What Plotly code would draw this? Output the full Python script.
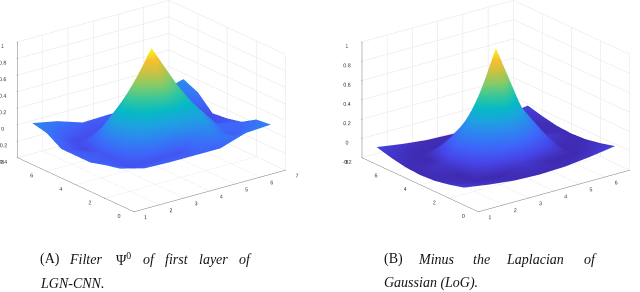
import plotly.graph_objects as go

x_vals = [1, 2, 3, 4, 5, 6, 7]
y_vals = [1, 2, 3, 4, 5, 6, 7]
z_filter = [
    [0.04, -0.04, -0.05, -0.05, -0.05, 0.05, 0.07],
    [0.00, -0.12, -0.10, -0.09, 0.17, -0.08, 0.05],
    [-0.05, -0.10, 0.26, 0.48, 0.35, 0.00, -0.06],
    [-0.05, -0.09, 0.48, 1.00, 0.48, -0.15, -0.10],
    [-0.05, -0.15, 0.20, 0.48, 0.24, -0.20, -0.12],
    [0.06, -0.13, -0.15, -0.15, -0.18, -0.12, 0.05],
    [0.10, 0.04, -0.06, -0.05, -0.05, 0.05, 0.13],
]
z_log = [
    [-0.02, -0.06, -0.09, -0.10, -0.09, -0.06, -0.02],
    [-0.06, -0.10, -0.10, -0.05, -0.10, -0.10, -0.06],
    [-0.09, -0.10, 0.14, 0.32, 0.14, -0.10, -0.09],
    [-0.10, -0.05, 0.32, 1.00, 0.32, -0.05, -0.10],
    [-0.09, -0.10, 0.14, 0.32, 0.14, -0.10, -0.09],
    [-0.06, -0.10, -0.10, -0.05, -0.10, -0.10, -0.06],
    [-0.02, -0.06, -0.09, -0.10, -0.09, -0.06, -0.02],
]
x_ticks = [1, 2, 3, 4, 5, 6, 7]
y_ticks = [0, 2, 4, 6, 8]
z_ticks_a = [-0.4, -0.2, 0, 0.2, 0.4, 0.6, 0.8, 1]
z_ticks_b = [-0.2, 0, 0.2, 0.4, 0.6, 0.8, 1]
caption_a = [("(A)", 38, 259, False), ("Filter", 67, 259, True), ("Ψ<sup>0</sup>", 114, 259, False),
             ("of", 141, 259, True), ("first", 163, 259, True), ("layer", 197, 259, True),
             ("of", 237, 259, True), ("LGN-CNN.", 38, 283, True)]
caption_b = [("(B)", 382, 259, False), ("Minus", 416, 259, True), ("the", 471, 259, True),
             ("Laplacian", 504, 259, True), ("of", 582, 259, True), ("Gaussian (LoG).", 382, 283, True)]

parula = [[0.0, "#3e26a8"], [0.1, "#4744e6"], [0.2, "#3f64fa"], [0.3, "#2e84f1"], [0.4, "#1ea2e0"],
          [0.5, "#06bac5"], [0.6, "#36c79b"], [0.7, "#83cb6a"], [0.8, "#c6c244"], [0.9, "#f8c02e"], [1.0, "#f9fb15"]]

def surf(z, scene, cmin):
    return go.Surface(x=x_vals, y=y_vals, z=z, scene=scene, colorscale=parula, showscale=False,
                      lighting=dict(ambient=1.0, diffuse=0.0, specular=0, roughness=1, fresnel=0),
                      cmin=cmin, cmax=1)

def axis(rng, ticks):
    return dict(range=rng, tickvals=ticks, ticktext=[str(t) for t in ticks], title=dict(text=""),
                showbackground=False, gridcolor="#e4e4e4", gridwidth=1, showline=True, linecolor="#777777",
                zeroline=False, ticks="outside", ticklen=1, tickcolor="#777777", tickangle=0,
                tickfont=dict(size=8, color="#333333", family="Liberation Sans"), showspikes=False)

def scene(dom, zr, zt, shift):
    cx, cy, cz = shift
    return dict(domain=dict(x=dom[0], y=dom[1]),
                xaxis=axis([1, 7], x_ticks), yaxis=axis([0, 8], y_ticks), zaxis=axis(zr, zt),
                aspectmode="manual", aspectratio=dict(x=1.54, y=1.54, z=1.0),
                camera=dict(projection=dict(type="orthographic"), center=dict(x=cx, y=cy, z=cz),
                            eye=dict(x=-1.10 + cx, y=-1.43 + cy, z=0.69 + cz), up=dict(x=0, y=0, z=1)))

fig = go.Figure([surf(z_filter, "scene", -0.3), surf(z_log, "scene2", -0.12)])
fig.update_layout(width=640, height=292, margin=dict(l=0, r=0, t=0, b=0), paper_bgcolor="white",
                  showlegend=False,
                  scene=scene(([0, 0.473], [0.15, 1]), [-0.4, 1], z_ticks_a, (0, 0, -0.155)),
                  scene2=scene(([0.5, 1], [0.15, 1]), [-0.2, 1], z_ticks_b, (-0.1015, 0.078, -0.155)))
for text, px, py, ital in caption_a + caption_b:
    fig.add_annotation(text=f"<i>{text}</i>" if ital else text, x=px / 640, y=1 - py / 292, xref="paper", yref="paper",
                       xanchor="left", yanchor="middle", showarrow=False,
                       font=dict(family="Liberation Serif", size=14, color="#111111"))
fig.write_html("out.html", config={"displayModeBar": False},
               post_script="document.body.style.margin='0';document.body.style.overflow='hidden';")
